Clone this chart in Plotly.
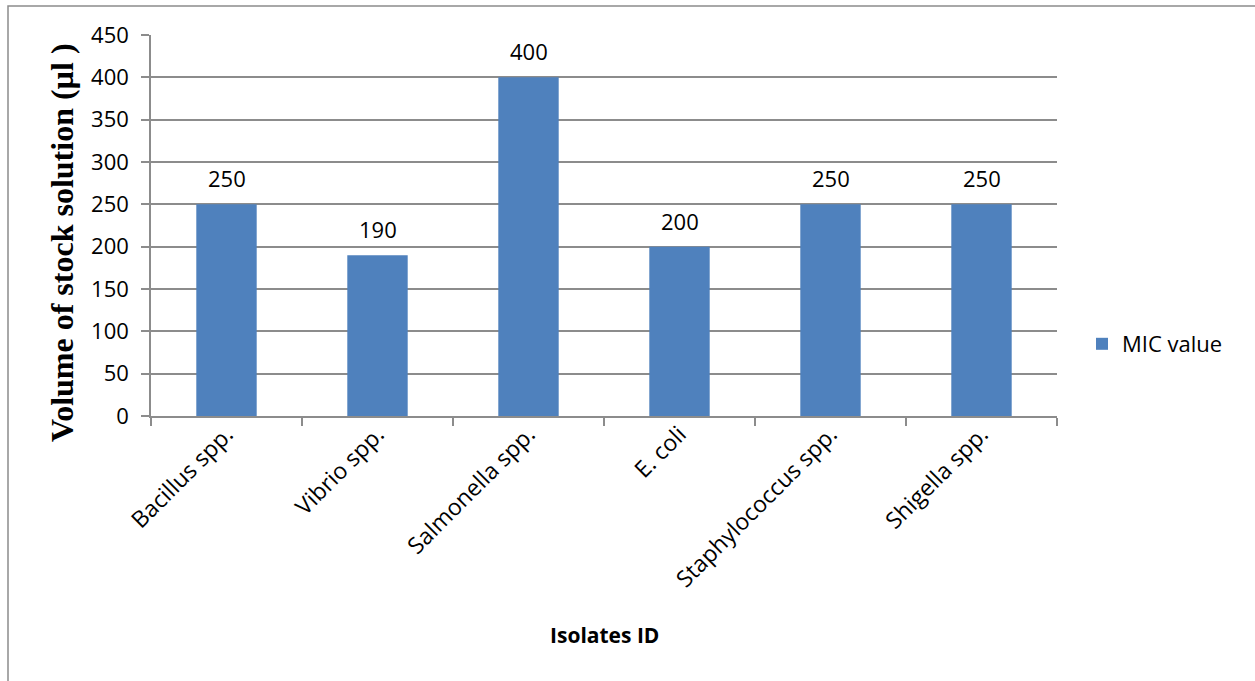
import plotly.graph_objects as go

categories = ["Bacillus spp.", "Vibrio spp.", "Salmonella spp.", "E. coli", "Staphylococcus spp.", "Shigella spp."]
mic_values = [250, 190, 400, 200, 250, 250]
series_name = "MIC value"
y_ticks = [0, 50, 100, 150, 200, 250, 300, 350, 400, 450]
x_title = "Isolates ID"
y_title = "Volume of stock solution (µl )"

W, H = 1255, 681
L, R, T, B = 151, 1057, 35, 416
PW, PH = R - L, B - T

SANS = "Open Sans, Lato, sans-serif"
grid_col = "#8C8C8C"

fig = go.Figure()
fig.add_trace(go.Bar(
    x=categories, y=mic_values, name=series_name,
    marker=dict(color="#4F81BD", line=dict(width=0)),
))

annotations = [
    dict(x=c, y=v, xref="x", yref="y", text=str(v), showarrow=False,
         yshift=26, xanchor="center", yanchor="middle",
         font=dict(family=SANS, size=22, color="black"))
    for c, v in zip(categories, mic_values)
]
annotations.append(dict(x=(604 - L) / PW, y=(B - 635) / PH, xref="paper", yref="paper",
                        text="<b>" + x_title + "</b>", showarrow=False,
                        xanchor="center", yanchor="middle",
                        font=dict(family=SANS, size=21, color="black")))
annotations.append(dict(x=(62 - L) / PW, y=(B - 243) / PH, xref="paper", yref="paper",
                        text="<b>" + y_title + "</b>", showarrow=False, textangle=-90,
                        xanchor="center", yanchor="middle",
                        font=dict(family="Liberation Serif, Times New Roman, serif", size=32, color="black")))

fig.update_layout(
    width=W, height=H,
    margin=dict(l=L, r=W - R, t=T, b=H - B, pad=0),
    paper_bgcolor="white", plot_bgcolor="white",
    bargap=0.6,
    showlegend=True,
    legend=dict(x=(1082 - L) / PW, y=(B - 344) / PH, xanchor="left", yanchor="middle",
                font=dict(family=SANS, size=22, color="black"),
                itemwidth=30, bgcolor="rgba(0,0,0,0)"),
    xaxis=dict(
        type="category", tickson="boundaries", ticks="outside", ticklen=8, tickcolor=grid_col,
        tickwidth=1.5, ticklabelstandoff=-6,
        showline=True, linecolor=grid_col, linewidth=1.5,
        tickangle=-45,
        tickfont=dict(family=SANS, size=23, color="black"),
        showgrid=False,
    ),
    yaxis=dict(
        range=[0, 450], tickvals=y_ticks, ticks="outside", ticklen=8, tickcolor=grid_col,
        tickwidth=1.5, ticklabelstandoff=8,
        showline=True, linecolor=grid_col, linewidth=1.5,
        showgrid=True, gridcolor=grid_col, gridwidth=1.5,
        tickfont=dict(family=SANS, size=22, color="black"),
        zeroline=False,
    ),
    annotations=annotations,
    shapes=[dict(type="rect", xref="paper", yref="paper",
                 x0=(8 - L) / PW, x1=(1300 - L) / PW,
                 y0=(B - 720) / PH, y1=(B - 6) / PH,
                 line=dict(color="#8C8C8C", width=1.5), fillcolor="rgba(0,0,0,0)", layer="below")],
)
fig.write_html("out.html")
